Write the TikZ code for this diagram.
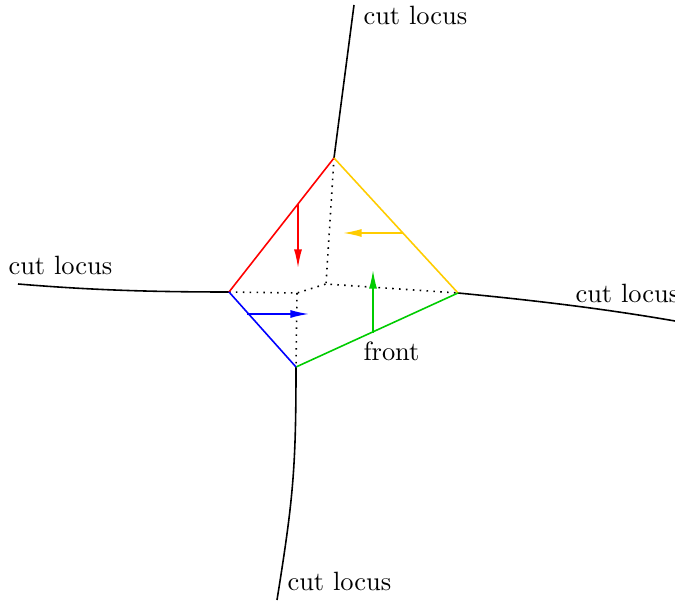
\documentclass[tikz,border=0pt]{standalone}
\usetikzlibrary{arrows.meta}
\definecolor{myyellow}{RGB}{255,204,0}
\definecolor{mygreen}{RGB}{0,204,0}
\begin{document}
\begin{tikzpicture}[x=0.378pt,y=-0.378pt,
  edge/.style={line width=0.6pt},
  mv/.style={line width=0.6pt,-{Latex[length=7pt,width=3pt]}},
  lbl/.style={anchor=base west,inner sep=0pt,font=\normalsize},
  dot/.style={dotted,line width=0.6pt}]
\useasboundingbox (0,0) rectangle (675,604);
\coordinate (T) at (334,158);
\coordinate (L) at (229,292);
\coordinate (R) at (458,293);
\coordinate (B) at (296,367);
\coordinate (C) at (326,284);
\coordinate (D) at (297,293);
% cut loci
\coordinate (Te) at (354,5);
\coordinate (Le) at (18,284);
\coordinate (Re) at (675,321);
\coordinate (Be) at (277,600);
\draw[edge] (T) -- (Te);
\draw[edge] (L) .. controls (150,292) and (90,290) .. (Le);
\draw[edge] (R) .. controls (530,300) and (600,308) .. (Re);
\draw[edge] (B) .. controls (296,470) and (293,500) .. (Be);
\node[lbl] (l1) at (363,25) {cut locus};
\node[lbl] (l2) at (8,275) {cut locus};
\node[lbl] (l3) at (575,303) {cut locus};
\node[lbl] (l4) at (287,590) {cut locus};
\node[lbl] (fr) at (363,361) {front};
% dotted skeleton
\draw[dot] (T) -- (C) -- (R);
\draw[dot] (L) -- (D) -- (C);
\draw[dot] (D) -- (B);
% front edges
\draw[edge,red] (L) -- (T);
\draw[edge,myyellow] (T) -- (R);
\draw[edge,mygreen] (R) -- (B);
\draw[edge,blue] (B) -- (L);
% arrows
\coordinate (ra) at (298,204);
\coordinate (rb) at (298,268);
\coordinate (ya) at (403,233);
\coordinate (yb) at (343,233);
\coordinate (ba) at (247,314);
\coordinate (bb) at (309,314);
\coordinate (ga) at (373,333);
\coordinate (gb) at (373,270);
\draw[mv,red] (ra) -- (rb);
\draw[mv,myyellow] (ya) -- (yb);
\draw[mv,blue] (ba) -- (bb);
\draw[mv,mygreen] (ga) -- (gb);
\end{tikzpicture}
\end{document}
